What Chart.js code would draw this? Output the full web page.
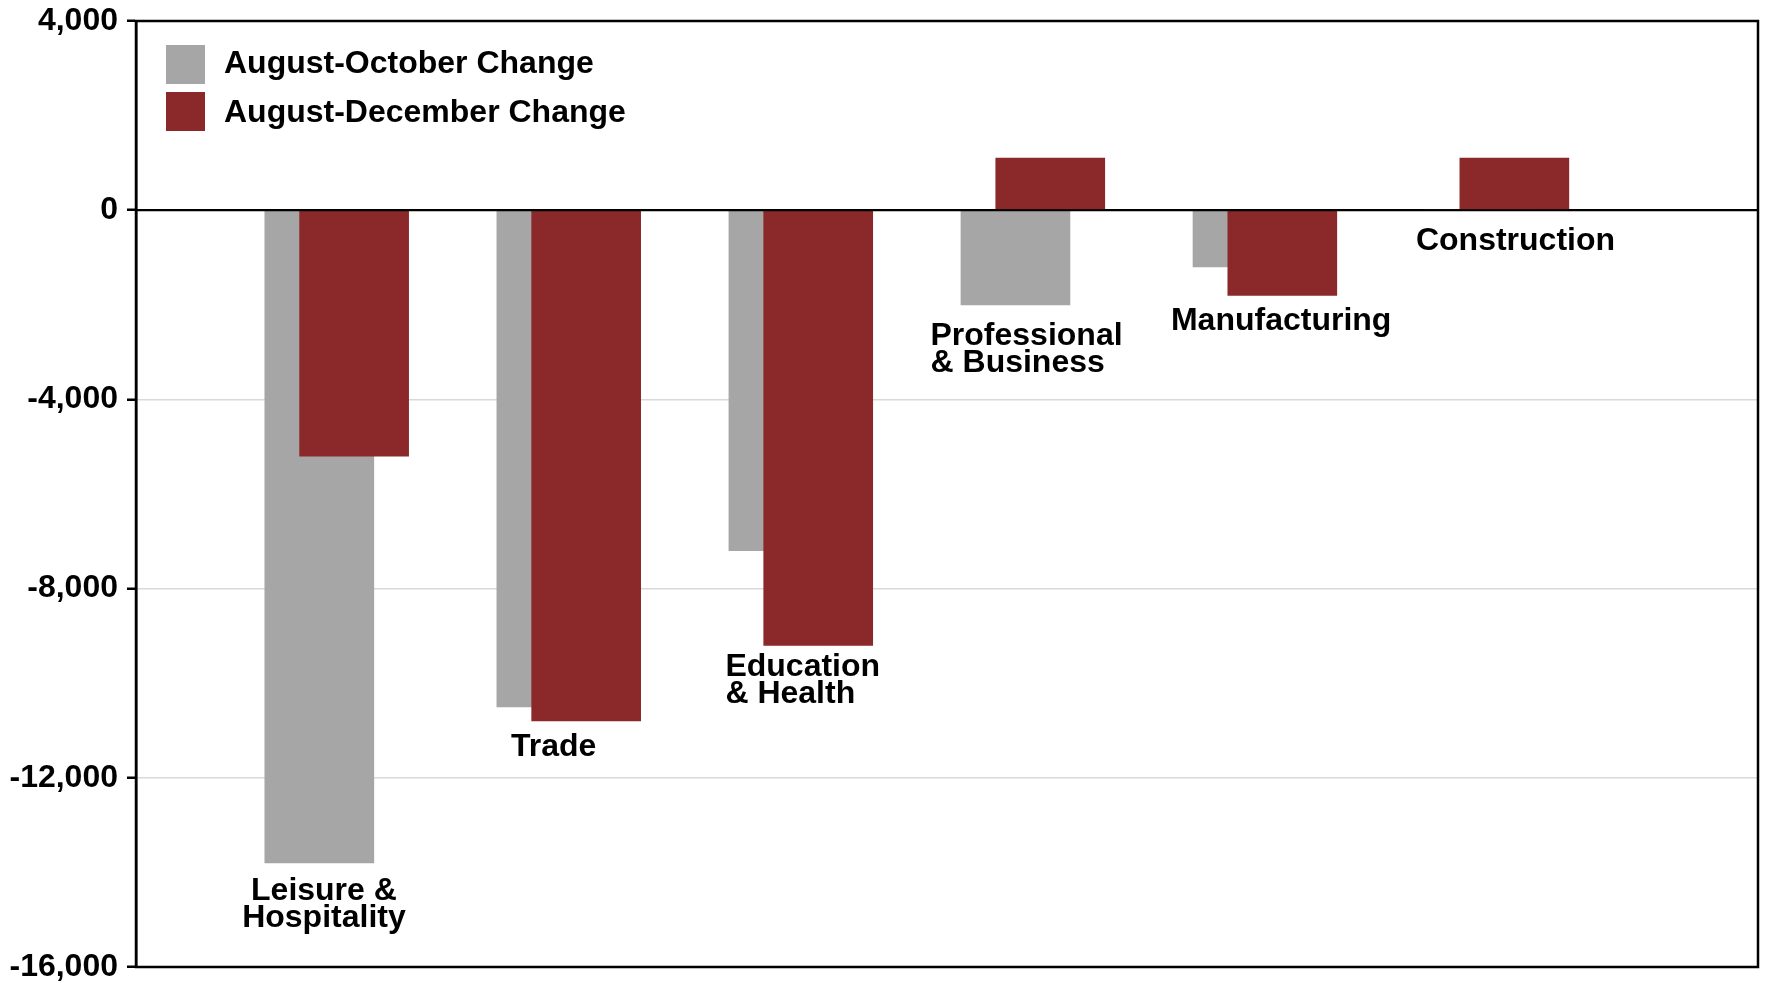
<!DOCTYPE html>
<html>
<head>
<meta charset="utf-8">
<title>Employment change by sector</title>
<script src="https://cdn.jsdelivr.net/npm/chart.js@4.4.1/dist/chart.umd.min.js"></script>
<style>
  body { margin: 0; background: #fff; }
  #wrap { width: 1766px; height: 983px; }
</style>
</head>
<body>
<div id="wrap"><canvas id="changeCanvas"></canvas></div>
<script>
// sectors in the order they sit along the axis (multi-line labels)
const sectors = [['Leisure &', 'Hospitality'], ['Trade'], ['Education', '& Health'], ['Professional', '& Business'], ['Manufacturing'], ['Construction']];
const augOctChange = [-13800, -10500, -7200, -2000, -1200, 0];
const augDecChange = [-5200, -10800, -9200, 1100, -1800, 1100];
const yTicks = [4000, 0, -4000, -8000, -12000, -16000];

const FONT = '"Liberation Sans", Arial, Helvetica, sans-serif';
// the december bars sit a bit to the right of the october ones and overlap them
const DEC_SHIFT = 0.15;

// black box round the plot + zero line on top of the bars
const frame = {
    id: 'frame',
    afterDatasetsDraw(chart) {
        const { ctx, chartArea: a } = chart;
        const y0 = chart.scales.y.getPixelForValue(0);
        ctx.save();
        ctx.strokeStyle = '#000';
        ctx.lineWidth = 2;
        ctx.beginPath();
        ctx.moveTo(a.left, y0);
        ctx.lineTo(a.right, y0);
        ctx.stroke();
        ctx.lineWidth = 2.5;
        ctx.strokeRect(a.left, a.top, a.right - a.left, a.bottom - a.top);
        ctx.restore();
    }
};

// sector names written just under the lowest bar of each group
const sectorLabels = {
    id: 'sectorLabels',
    afterDatasetsDraw(chart, args, opts) {
        const { ctx } = chart;
        const xs = chart.scales.x, ys = chart.scales.y;
        ctx.save();
        ctx.font = 'bold 32px ' + FONT;
        ctx.fillStyle = '#000';
        ctx.textBaseline = 'middle';
        sectors.forEach((lines, i) => {
            const low = Math.min(0, augOctChange[i], augDecChange[i]);
            const cx = xs.getPixelForValue(i + opts.nudge[i]);
            const top = ys.getPixelForValue(low) + opts.gap[i];
            ctx.textAlign = opts.align[i];
            lines.forEach((t, j) => ctx.fillText(t, cx, top + j * opts.lineGap));
        });
        ctx.restore();
    }
};

// legend inside the top left corner of the plot
const boxLegend = {
    id: 'boxLegend',
    afterDraw(chart, args, opts) {
        const { ctx, chartArea: a } = chart;
        ctx.save();
        ctx.font = 'bold 32px ' + FONT;
        ctx.textBaseline = 'middle';
        ctx.textAlign = 'left';
        chart.data.datasets.forEach((ds, i) => {
            const bx = a.left + opts.left;
            const by = a.top + opts.top + i * opts.rowGap;
            ctx.fillStyle = ds.backgroundColor;
            ctx.fillRect(bx, by, opts.box, opts.box);
            ctx.fillStyle = '#000';
            ctx.fillText(ds.label, bx + opts.textGap, by + opts.box / 2 + i * 2);
        });
        ctx.restore();
    }
};

document.addEventListener('DOMContentLoaded', function() {
    const ctx = document.getElementById('changeCanvas').getContext('2d');
    new Chart(ctx, {
        type: 'bar',
        data: {
            datasets: [{
                label: 'August-October Change',
                data: augOctChange.map((v, i) => ({ x: i, y: v })),
                backgroundColor: '#a6a6a6',
                order: 2
            }, {
                label: 'August-December Change',
                data: augDecChange.map((v, i) => ({ x: i + DEC_SHIFT, y: v })),
                backgroundColor: '#8b282a',
                order: 1
            }]
        },
        options: {
            responsive: true,
            maintainAspectRatio: false,
            animation: false,
            datasets: { bar: { grouped: false, barThickness: 109 } },
            layout: { padding: { right: 8 } },
            scales: {
                x: { type: 'linear', min: -0.79, max: 6.2, offset: false, display: false },
                y: {
                    min: -16000,
                    max: 4000,
                    afterBuildTicks: s => { s.ticks = yTicks.map(v => ({ value: v })); },
                    afterFit: s => {
                        s.width = 136;
                        s.paddingTop = 21;
                        s.paddingBottom = 16;
                    },
                    ticks: {
                        color: '#000',
                        padding: 9,
                        font: { family: FONT, size: 32, weight: 'bold' },
                        callback: v => v.toLocaleString('en-US')
                    },
                    grid: {
                        color: c => c.tick && c.tick.value === 0 ? '#000' : '#d9d9d9',
                        lineWidth: 1.5,
                        tickColor: '#000',
                        tickLength: 9,
                        tickWidth: 2.5
                    },
                    border: { color: '#000', width: 2.5 }
                }
            },
            plugins: {
                legend: { display: false },
                tooltip: { enabled: false },
                sectorLabels: {
                    nudge: [0.02, 0.01, -0.25, -0.366, 0.145, 0.155],
                    align: ['center', 'center', 'left', 'left', 'center', 'center'],
                    gap: [28, 26, 22, 31, 26, 31],
                    lineGap: 27
                },
                boxLegend: { left: 30, top: 24, rowGap: 47, box: 39, textGap: 58 }
            }
        },
        plugins: [frame, sectorLabels, boxLegend]
    });
});
</script>
</body>
</html>
